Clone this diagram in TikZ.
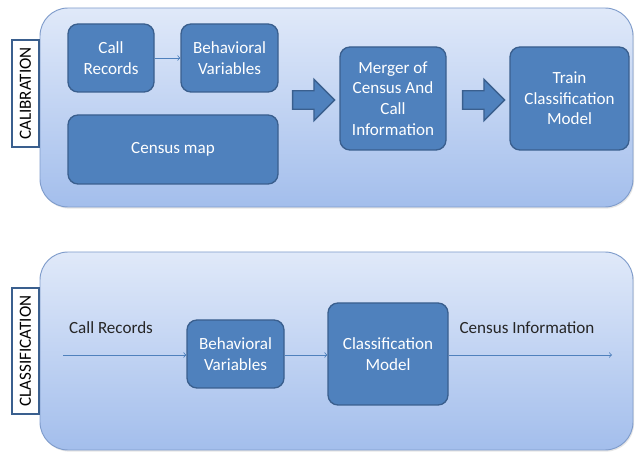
\documentclass[tikz,border=0pt]{standalone}
\usepackage{fontspec}
\setmainfont{Carlito}
\usetikzlibrary{shapes.arrows,shadows}

\definecolor{boxblue}{HTML}{4F81BD}
\definecolor{boxedge}{HTML}{3A5F8E}
\definecolor{paneltop}{HTML}{E0E9F9}
\definecolor{panelbot}{HTML}{A3BEEC}
\definecolor{paneledge}{HTML}{7F9CCB}

\newcommand{\boxfont}{\fontsize{12.8}{15.5}\selectfont}

\tikzset{
    panel/.style={draw=paneledge, line width=0.7pt, rounded corners=21pt,
        top color=paneltop, bottom color=panelbot,
        drop shadow={shadow xshift=0.8pt, shadow yshift=-1.2pt, opacity=0.2}},
    stage/.style={draw=boxedge, fill=boxblue, line width=1pt, rounded corners=7.5pt,
        text=white, align=center, font=\boxfont, inner sep=2pt},
    tag/.style={draw=boxedge, fill=white, line width=1pt, rotate=90,
        font=\boxfont, inner sep=0pt, minimum height=20.25pt},
    flow/.style={->, draw=boxblue, line width=0.6pt},
    bigarrow/.style={single arrow, draw=boxedge, fill=boxblue, line width=1pt,
        inner xsep=0pt, inner ysep=6.4pt, single arrow head extend=8.6pt,
        minimum height=31.5pt}
}

\begin{document}
\begin{tikzpicture}[x=0.75pt, y=-0.75pt]
    \useasboundingbox (0,0) rectangle (636,452);

    % calibration
    \draw[panel] (40,8) rectangle (633,207);
    \node[tag, minimum width=80.25pt] (cal) at (25.5,93.5) {CALIBRATION};

    \node[stage, minimum width=64.5pt, minimum height=51pt] (rec) at (111,58) {Call\\Records};
    \node[stage, minimum width=72.75pt, minimum height=51pt] (beh) at (229.5,58) {Behavioral\\Variables};
    \node[stage, minimum width=157.5pt, minimum height=51.75pt] (map) at (173,149.5) {Census map};
    \draw[flow] (rec) -- (beh);

    \node[bigarrow] (a1) at (309,100) {};
    \node[stage, minimum width=79.5pt, minimum height=77.25pt] (merge) at (393,98.5) {Merger of\\Census And\\Call\\Information};
    \node[bigarrow] (a2) at (479,100) {};
    \node[stage, minimum width=89.25pt, minimum height=77.25pt] (train) at (569.5,98.5) {Train\\Classification\\Model};

    % classification
    \draw[panel] (40,252) rectangle (633,450);
    \node[tag, minimum width=94.5pt] (cls) at (25.5,351) {CLASSIFICATION};

    \coordinate (in) at (63,355);
    \coordinate (out) at (612,355);
    \node[font=\boxfont, text=black!85] (rec2) at (111,328) {Call Records};
    \node[stage, minimum width=72.75pt, minimum height=51pt] (beh2) at (235.5,354) {Behavioral\\Variables};
    \node[stage, minimum width=90pt, minimum height=76.5pt] (model) at (388,354) {Classification\\Model};
    \node[font=\boxfont, text=black!85] (info) at (527,328) {Census Information};

    \draw[flow] (in) -- (in -| beh2.west);
    \draw[flow] (beh2.east |- in) -- (model.west |- in);
    \draw[flow] (model.east |- in) -- (out);
\end{tikzpicture}
\end{document}
